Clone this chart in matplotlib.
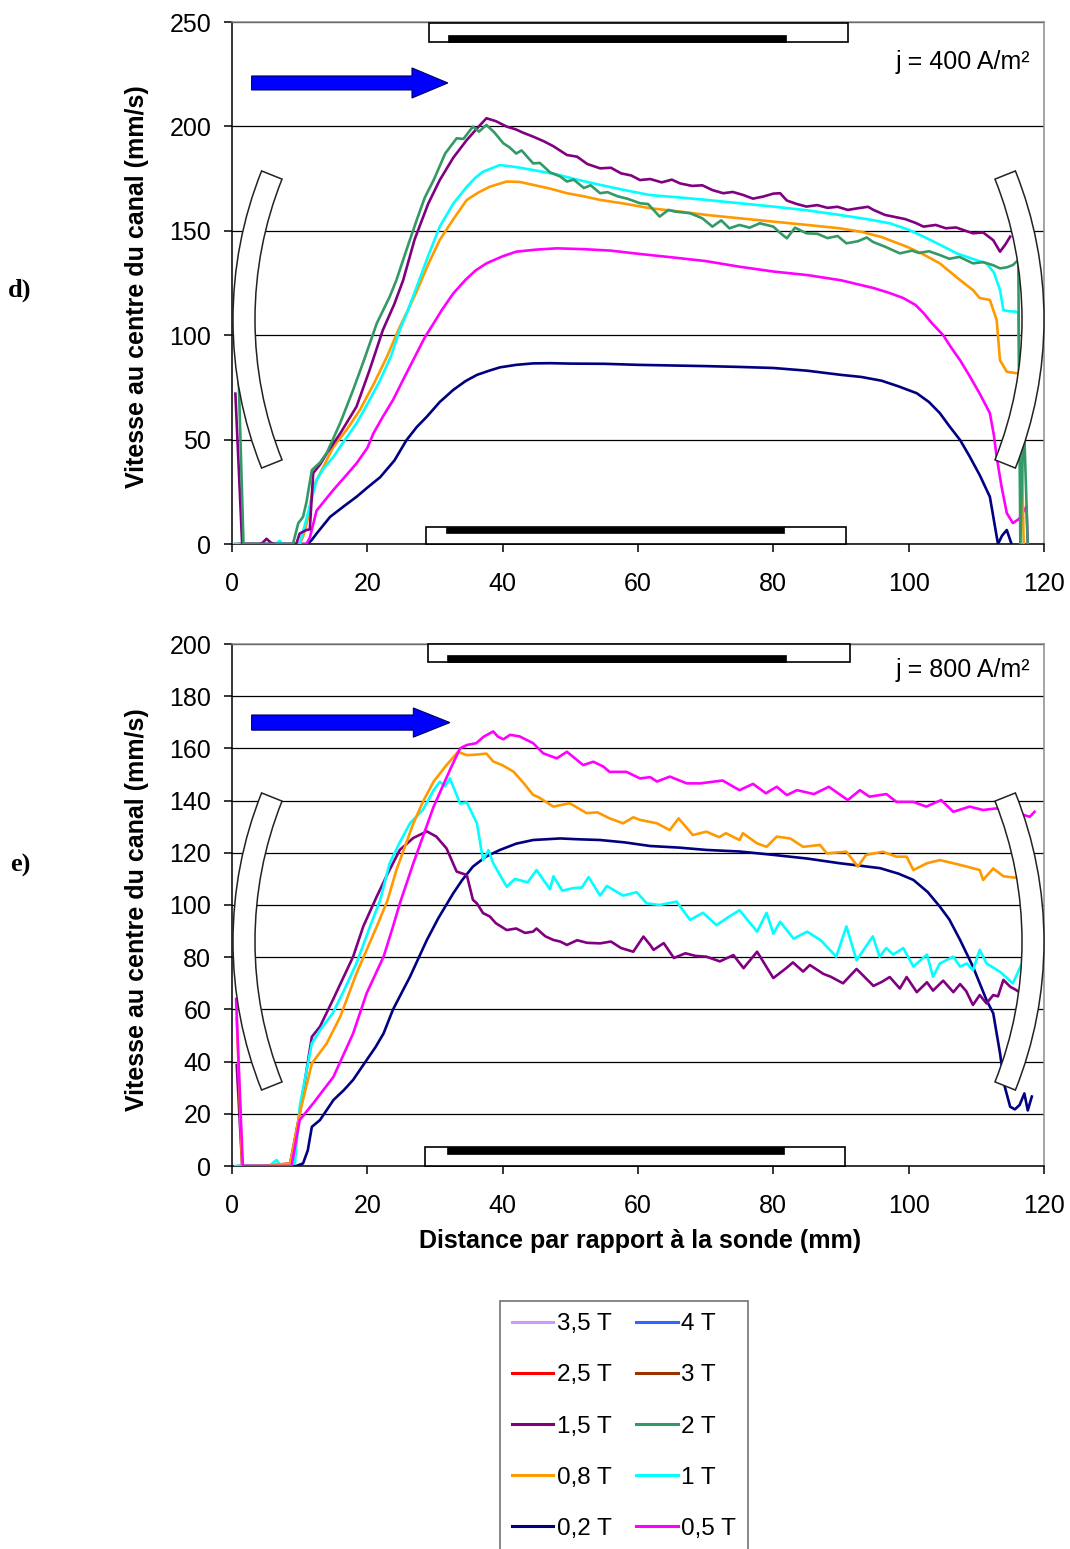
import numpy as np
import matplotlib
matplotlib.use('Agg')
import matplotlib.pyplot as plt
from matplotlib.patches import Rectangle, Polygon, Wedge
from matplotlib.lines import Line2D
from matplotlib.transforms import Affine2D

plt.rcParams['font.family'] = ['Liberation Sans', 'DejaVu Sans']

# ---- couleurs des séries (champ magnétique)
fields = ['3,5 T', '2,5 T', '1,5 T', '0,8 T', '0,2 T', '4 T', '3 T', '2 T', '1 T', '0,5 T']
colors = ['#cc99ff', '#ff0000', '#800080', '#ff9900', '#000080',
          '#3366ff', '#993300', '#339966', '#00ffff', '#ff00ff']
col = dict(zip(fields, colors))

# ================= d) j = 400 A/m2 =================
d_02_x = [1, 5, 9, 11.2, 11.8, 12.5, 14.5, 16.5, 18.4, 20, 21.9, 24, 25.8, 27.3, 28.8, 30.7, 32.7, 34.5,
          36.2, 38, 39.6, 42, 44.5, 47, 50, 55, 60, 65, 70, 75, 80, 85, 90, 93, 96, 98.5, 101.2, 103,
          104.6, 106, 107.6, 109, 110.5, 112, 113.2, 113.8, 114.5, 115.2]
d_02_y = [0, 0, 0, 0, 2, 5, 13, 18, 22.6, 27, 32, 40, 49.8, 56, 61, 68, 73.8, 78,
          81, 83, 84.6, 85.8, 86.5, 86.6, 86.4, 86.3, 85.8, 85.5, 85.2, 84.8, 84.3, 83, 81, 80, 78.2, 75.5, 72.2, 68,
          62.7, 56.5, 49.8, 42, 33, 22.6, 0, 4, 6.7, 0]

d_05_x = [0.5, 5, 11, 11.5, 12.5, 13.5, 15, 16.5, 18.4, 20, 20.9, 22.3, 23.8, 25.5, 27.3, 28.5, 29.8, 31,
          32.7, 34.5, 36, 37.6, 40, 42, 45, 48, 52, 56, 60, 65, 70, 75, 80, 85, 90, 94.8, 97, 99.2, 101,
          102.2, 103.5, 105.1, 106.3, 107.6, 109, 110.5, 112, 112.6, 113, 113.7, 114.5, 115.4, 116.3, 117.4, 117.6]
d_05_y = [0, 0, 0, 3, 16, 20, 26, 31.5, 38.6, 46, 53, 61, 69, 80, 91.4, 99, 105.7, 112,
          120, 126.5, 131, 134.4, 137.8, 140, 141, 141.6, 141.2, 140.5, 139, 137.3, 135.5, 132.8, 130.5, 128.8, 126.3,
          122.6, 120.4, 117.8, 114.5, 110.6, 105.5, 100, 94, 88, 80.5, 72, 62.7, 52, 41.8, 28, 14.8, 10, 12, 17.9, 0]

d_08_x = [0.5, 5, 10, 10.5, 11.2, 12, 13.5, 15, 17, 18.9, 21, 22.9, 24.8, 26, 27.3, 29, 30.7, 32.7, 34.7,
          36.5, 38.1, 40.6, 42.5, 44.5, 47, 49.5, 52, 54.4, 58, 61.8, 66, 70.1, 75, 80, 85, 89.8, 93, 96,
          99.7, 102, 104.6, 107.6, 109.5, 110.5, 112, 113, 113.5, 114.5, 115.9, 116.5, 117]
d_08_y = [0, 0, 0, 3.4, 12, 27.4, 37, 46.6, 55, 64.2, 77, 89.7, 104, 112, 121, 134, 145.6, 155.5, 164.8,
          168.5, 171.1, 173.6, 173.4, 172, 170.2, 168, 166.5, 164.8, 163, 160.8, 159.3, 157.6, 156, 154.4, 152.8,
          151.2, 149.5, 147, 142.4, 139, 134.4, 126.4, 121.6, 117.8, 116.9, 107.3, 88, 82.5, 81.8, 81.5, 0]

d_1_x = [0.3, 5, 6.5, 7, 7.5, 10, 11, 12.5, 13.5, 15, 16.5, 18.4, 20, 21.9, 23.5, 24.8, 26, 27.3, 29, 30.7,
         32.7, 34.7, 36, 37.1, 39.6, 42, 44.5, 48, 51, 54.4, 58, 61.8, 66, 70.1, 75, 80, 85, 89.8, 94, 97.2,
         100, 102.2, 104.5, 107.1, 109.5, 111.5, 112.6, 113.5, 114, 114.8, 115.7, 116.2, 116.6]
d_1_y = [0, 0, 0, 1.5, 0, 0, 12, 30.6, 36, 41.8, 49, 57.8, 67, 78.5, 90, 102.5, 112, 123.2, 138, 152,
         163, 171.1, 175.5, 178.3, 181.5, 180.5, 179.1, 177, 174.5, 172, 169.5, 167.1, 166, 164.8, 163.2, 161.6,
         159.8, 157.6, 155.5, 153.6, 150.5, 147.2, 143.5, 139.2, 136.5, 134.4, 130, 121.6, 112, 111.5, 111.3, 111, 0]

d_15_x = [0.5, 1.5, 4, 4.5, 5.1, 5.8, 6.5, 9.5, 10, 11, 11.5, 12, 13, 14, 16, 18.4, 20.3, 22.3, 24, 25.3,
          27, 29, 30.7, 32.7, 34.7, 36.2, 37.6, 39, 40.6, 42, 43, 44.5, 46, 47.5, 49.5, 51, 52.5, 54.4, 56,
          57.5, 59, 60.3, 61.8, 63.5, 65, 66.2, 68, 69.5, 71, 72.6, 74, 75.5, 77, 78.5, 80, 81, 82, 83.5,
          84.9, 86.5, 88, 89.5, 91, 92.5, 94, 94.8, 96.5, 98, 99.5, 101, 102.2, 104, 105.5, 107, 108.5,
          109.5, 111, 112.5, 113.5, 114.3, 115]
d_15_y = [72, 0, 0, 0.5, 2.5, 0.5, 0, 0, 5, 6.7, 7, 34, 38, 43.4, 53, 65.8, 83, 102.5, 115, 126.4,
          146, 163, 174.3, 185, 193.5, 199, 203.9, 202.5, 199.9, 198.5, 197, 195.1, 193, 190.5, 186.3, 185.5,
          182, 179.9, 180.2, 177.5, 176.5, 174.3, 174.8, 173.2, 174.5, 172.7, 171.5, 171.8, 169.5, 168, 168.6,
          167.2, 165.4, 166.4, 167.8, 168, 164.5, 162.8, 161.6, 162.3, 161, 161.5, 160, 160.8, 161.5, 160,
          157.6, 156.6, 155.6, 153.8, 152, 152.8, 151.2, 151.6, 149.9, 148.8, 149.2, 145.5, 140, 143.5, 147.2]

d_2_x = [0.8, 1.7, 5, 9, 9.8, 10.5, 11, 11.8, 13, 14, 16, 17.9, 19.5, 21.4, 23.3, 24.3, 25.8, 27.3, 28.5,
         29.8, 31.5, 33.2, 34.2, 35.6, 36.5, 37.6, 38.8, 40.1, 41, 42, 42.8, 44.5, 45.5, 47, 48.5, 49.5,
         50.5, 52, 53, 54.4, 55.5, 57, 58.5, 60.3, 61.5, 63.2, 64.5, 65.5, 67.7, 69.5, 71, 72.3, 73.5, 75,
         76.5, 78, 80, 81, 82, 83.2, 84.9, 86.5, 88, 89.5, 90.8, 92.5, 93.8, 94.7, 96.5, 98.7, 100.5, 101.5,
         103, 104.6, 106, 107.5, 109.5, 111, 112.5, 113.5, 114.5, 115.4, 116.2, 116.5, 117, 117.6]
d_2_y = [100, 0, 0, 0, 10, 13, 20, 35.4, 39, 43.6, 58, 73.8, 88, 105.7, 118.4, 126.4, 141, 155.2, 166,
         174.3, 187, 194.3, 194, 199.9, 197.5, 200.7, 197, 191.9, 190, 187, 188.5, 182.3, 182.5, 178, 176,
         173.6, 174.5, 170.5, 171.8, 168, 168.5, 166.5, 165.3, 163.2, 162.8, 156.8, 160, 159.2, 158.4, 156,
         152, 155, 151.2, 152.8, 151.5, 153.6, 152, 149, 146.4, 151.5, 148.8, 148.6, 146.5, 147.5, 144, 145,
         146.8, 144.7, 142.4, 139.2, 140.5, 139.4, 140.2, 138.4, 136.6, 137.5, 134.4, 135, 133.5, 132, 132.5,
         133.6, 136, 0, 62, 0]

# ================= e) j = 800 A/m2 =================
e_02_x = [1, 5, 9.5, 10.5, 11.2, 11.8, 13, 15, 16.5, 17.9, 19.9, 21.2, 22.4, 23.8, 25, 26.3, 28.8, 30.5,
          32.7, 34, 35.6, 37.5, 39.6, 42, 44.5, 48.5, 51, 54.4, 58, 61.8, 66, 70.1, 75, 80, 85, 89.8, 93,
          95.8, 98.5, 100.7, 102.8, 104.6, 106, 107.6, 109.5, 111.5, 112.5, 113.5, 114.2, 115, 115.7, 116.4,
          117.1, 117.6, 118.2]
e_02_y = [0, 0, 0, 1, 6, 15, 17.6, 25.3, 29, 33, 40.6, 45.5, 50.8, 60, 66, 72.5, 86.6, 95,
          104.5, 109.5, 114.7, 118.5, 121.1, 123.5, 124.9, 125.5, 125.2, 124.9, 124, 122.6, 122, 121.1, 120.5,
          119.2, 117.8, 116, 115, 114.1, 112, 109.6, 105, 99.4, 94.5, 86.6, 76.4, 63.6, 58.5, 43.2, 30.4, 22.7,
          21.7, 23.4, 27.8, 21.3, 26.6]

e_05_x = [0.6, 1.6, 5, 8.8, 10, 12, 15, 17.9, 19.9, 22.4, 23.8, 24.8, 26.8, 29.8, 32.2, 33.7, 34.7, 36.1,
          37.2, 38.6, 39.3, 40.1, 41.1, 42.5, 44.5, 46, 48, 49.5, 51.9, 53.4, 54.9, 55.8, 58.3, 60.3, 61.8,
          62.8, 64.7, 67.2, 69.2, 72.5, 75, 77, 78.9, 80.5, 82, 83.5, 86, 88.2, 91, 92.8, 94.2, 96.7, 98.2,
          100.7, 102.6, 104.8, 106.6, 109, 111, 112.9, 115.4, 117.9, 118.6]
e_05_y = [64, 0, 0, 0, 17.6, 24, 34.2, 50.8, 66.2, 80.2, 91.8, 100.6, 116, 137.7, 151.7, 160, 161.3, 162,
          164.5, 166.5, 164.5, 163.5, 165.2, 164.6, 162, 158.1, 156.2, 158.7, 153.6, 154.9, 153, 151, 151,
          148.5, 149, 147.3, 149.2, 146.6, 146.6, 147.7, 144, 146.4, 142.8, 145.3, 142.1, 144, 142.5, 145.3,
          140.2, 144, 141.5, 142.5, 139.5, 139.5, 137.7, 140.2, 135.7, 137.7, 136.4, 137, 135.7, 133.8, 135.7]

e_08_x = [0.7, 1.5, 5, 8.6, 10, 11.8, 14, 16, 18.4, 21.4, 23, 24.3, 26.8, 28.3, 29.8, 31.7, 33.4, 34.7,
          36, 37.6, 38.6, 40, 41.6, 43, 44.5, 45.3, 47.5, 49.9, 52.4, 54, 55.8, 57.8, 59.3, 60.3, 62.8, 64.7,
          66, 68.1, 70.1, 72, 73, 75, 75.5, 77.6, 79, 80.5, 82.5, 84.4, 86.9, 87.9, 90.8, 92.5, 93.7, 96.2,
          98.2, 99.7, 100.7, 102.7, 104.6, 106.6, 108.6, 110.5, 111, 112.5, 114, 116, 117.3]
e_08_y = [56.7, 0, 0, 1, 20, 39.3, 47, 57.2, 73.8, 91.8, 101.9, 113.4, 131.3, 140, 147.3, 153.6, 158.7,
          157.4, 157.6, 158, 155, 153.5, 151.1, 147, 142.2, 141.3, 137.7, 139, 135.2, 135.5, 133.2, 131.3,
          133.6, 132.6, 131.3, 128.7, 133.2, 126.8, 128.1, 126, 127.5, 124.9, 127.5, 123.6, 122.3, 126.2,
          125.5, 122.3, 123, 119.8, 120.4, 114.7, 119.2, 120.4, 118.5, 118.5, 113.4, 116, 117.2, 116, 114.7,
          113.4, 109.6, 114, 111, 110.4, 110.8]

e_1_x = [0.5, 5.5, 6.2, 6.6, 7.2, 9.3, 10, 11.8, 13, 14.9, 16.5, 18.4, 20.4, 21.9, 23.3, 24.8, 26.3, 28.2,
         29.8, 30.7, 31.5, 32.2, 33.7, 34.7, 36.2, 37.1, 37.9, 38.6, 40.6, 41.8, 43.7, 45, 47, 47.5, 48.8,
         50.5, 51.7, 52.7, 54.4, 55.4, 57.8, 59.8, 61.3, 63.2, 65.7, 67.7, 69.6, 71.6, 73.5, 75, 77.6, 79,
         80, 81, 83, 85, 87, 89.3, 90.8, 92.3, 94.7, 95.7, 96.7, 97.7, 99.2, 100.7, 102.7, 103.6, 104.6,
         106.6, 107.6, 108.6, 109.5, 110.5, 111.5, 113.5, 115.4, 116.4, 117]
e_1_y = [0, 0, 1.5, 2.3, 0, 1, 22.7, 47, 52, 58.6, 67, 77.7, 91.8, 101.9, 116, 124, 131.3, 136.4,
         144, 147.2, 145.5, 148.5, 138.9, 139.3, 131.3, 117.2, 121, 116, 107, 110, 108.7, 113.4, 106, 111,
         105.5, 106.5, 106.7, 110.7, 103.6, 107.3, 103.6, 104.9, 100.6, 100, 101.3, 94.3, 97, 92.3, 95.6, 98,
         89.8, 97, 89, 93.6, 87.1, 89.8, 86.5, 80.2, 91.8, 78.8, 88, 80.2, 83.5, 81, 83.5, 76.4, 81, 72.5,
         77.6, 80.2, 76.4, 77.6, 75, 82.8, 77.6, 74.4, 70, 75.7, 79]

e_15_x = [0.7, 1.5, 5, 8.6, 10, 11.8, 13, 14.9, 17.9, 19.4, 21.4, 23, 24.8, 26.8, 28.8, 30.2, 31.7, 33.2,
          34.7, 35.6, 36.2, 37.1, 38.1, 39, 40.6, 42, 43.3, 44.5, 45, 46.3, 47.5, 48.5, 49.5, 51, 52.5, 54.4,
          56, 57.5, 59.3, 60.8, 61.8, 62.3, 63.8, 65.3, 67, 68.5, 70.1, 72.1, 74.1, 75.6, 77.6, 80, 81.9,
          82.9, 84.4, 85.4, 87.4, 88.5, 90.3, 92.3, 94.8, 96, 97.2, 98.7, 99.7, 101.2, 102.7, 103.6, 105.1,
          106.6, 107.6, 108.5, 109.5, 110.5, 111.5, 112.5, 113.2, 114, 115, 115.9, 116.7, 117.3, 117.8]
e_15_y = [38.7, 0, 0, 1, 20, 49.5, 53.4, 63.6, 80.2, 91.8, 103.3, 112, 121.1, 125.7, 128.2, 126.2,
          121.7, 112.8, 111.5, 102, 100.6, 96.9, 95.6, 93, 90.4, 91, 89.3, 89.8, 91, 88, 86.6, 86, 84.7,
          86.5, 85.5, 85.3, 86, 83.5, 82.1, 87.9, 84.7, 82.8, 85.4, 79.7, 81.5, 80.5, 80.2, 78.4, 80.8,
          75.8, 82.1, 72, 75.8, 78, 74.5, 77, 73.6, 72.5, 70, 75.5, 69, 70.5, 72.4, 68, 72.4, 66.6, 70.4,
          67.2, 71, 66.6, 69.7, 67, 61.7, 65.5, 62.3, 65.5, 65, 71.3, 68.7, 67.4, 66, 71, 66]

panel_d = [('0,2 T', d_02_x, d_02_y), ('0,5 T', d_05_x, d_05_y), ('0,8 T', d_08_x, d_08_y),
           ('1 T', d_1_x, d_1_y), ('1,5 T', d_15_x, d_15_y), ('2 T', d_2_x, d_2_y)]
panel_e = [('0,2 T', e_02_x, e_02_y), ('1,5 T', e_15_x, e_15_y), ('1 T', e_1_x, e_1_y),
           ('0,8 T', e_08_x, e_08_y), ('0,5 T', e_05_x, e_05_y)]

W, H = 1070, 1549
fig = plt.figure(figsize=(W / 100, H / 100), dpi=100)
fig.patch.set_facecolor('white')

AX_L, AX_W, AX_H = 232, 812, 522


def decor(ax, top_box, top_bar, bot_box, bot_bar, arrow):
    # plaques / électrodes
    for (x0, y0, w, h) in (top_box, bot_box):
        ax.add_patch(Rectangle((x0, y0), w, h, fc='white', ec='black', lw=1.2, zorder=4, clip_on=False))
    for (x0, y0, w, h) in (top_bar, bot_bar):
        ax.add_patch(Rectangle((x0, y0), w, h, fc='black', ec='black', lw=0.5, zorder=4, clip_on=False))
    # flèche bleue
    xs, xb, xt, yc, hs, hh = arrow
    pts = [(xs, yc - hs), (xb, yc - hs), (xb, yc - hh), (xt, yc), (xb, yc + hh), (xb, yc + hs), (xs, yc + hs)]
    ax.add_patch(Polygon(pts, closed=True, fc='#0000ff', ec='#000060', lw=0.8, zorder=4))
    # arcs (pixels relatifs au coin bas-gauche)
    tr = Affine2D().scale(1 / AX_W, 1 / AX_H) + ax.transAxes
    ax.add_patch(Wedge((401, 224.5), 400, 158.2, 201.8, width=22, fc='white', ec='#222222',
                       lw=1.1, transform=tr, zorder=5, clip_on=False))
    ax.add_patch(Wedge((412, 224.5), 400, -21.8, 21.8, width=22, fc='white', ec='#222222',
                       lw=1.1, transform=tr, zorder=5, clip_on=False))


def style(ax, ymax, ystep):
    ax.set_xlim(0, 120)
    ax.set_ylim(0, ymax)
    ax.set_xticks(np.arange(0, 121, 20))
    ax.set_yticks(np.arange(0, ymax + 1, ystep))
    ax.yaxis.grid(True, color='black', lw=0.9)
    ax.set_axisbelow(True)
    for s in ('left', 'bottom'):
        ax.spines[s].set_color('black')
        ax.spines[s].set_linewidth(1.1)
    for s in ('top', 'right'):
        ax.spines[s].set_color('#8c8c8c')
        ax.spines[s].set_linewidth(1.1)
    ax.tick_params(direction='out', length=6, width=1.1, labelsize=18, colors='black')
    ax.tick_params(axis='y', pad=9)
    ax.tick_params(axis='x', pad=14)


ax1 = fig.add_axes([AX_L / W, 1 - 544 / H, AX_W / W, AX_H / H])
ax2 = fig.add_axes([AX_L / W, 1 - 1166 / H, AX_W / W, AX_H / H])

for name, x, y in panel_d:
    ax1.plot(x, y, color=col[name], lw=1.9, zorder=3, solid_joinstyle='round')
for name, x, y in panel_e:
    ax2.plot(x, y, color=col[name], lw=1.9, zorder=3, solid_joinstyle='round')

style(ax1, 250, 50)
style(ax2, 200, 20)

decor(ax1, (29.1, 240.6, 61.9, 8.8), (31.9, 240.6, 50, 3.4),
      (28.6, 0, 62.2, 8.3), (31.6, 5.1, 50, 3.2), (2.9, 26.6, 31.9, 220.8, 3.35, 7.2))
decor(ax2, (29, 193, 62.3, 7), (31.8, 193, 50, 2.8),
      (28.5, 0, 62.1, 7.2), (31.8, 4.6, 49.8, 2.6), (2.9, 26.8, 32.2, 169.9, 2.9, 5.6))

ax1.text(0.983, 0.923, 'j = 400 A/m²', transform=ax1.transAxes, ha='right', va='center', fontsize=18)
ax2.text(0.983, 0.950, 'j = 800 A/m²', transform=ax2.transAxes, ha='right', va='center', fontsize=18)

ylab = 'Vitesse au centre du canal (mm/s)'
fig.text(137 / W, 1 - 287 / H, ylab, rotation=90, ha='center', va='center', fontsize=18, fontweight='bold')
fig.text(137 / W, 1 - 910 / H, ylab, rotation=90, ha='center', va='center', fontsize=18, fontweight='bold')
fig.text(640 / W, 1 - 1241 / H, 'Distance par rapport à la sonde (mm)', ha='center', va='center',
         fontsize=18, fontweight='bold')

fig.text(20 / W, 1 - 290 / H, 'd)', ha='center', va='center', fontsize=19, fontweight='bold',
         family=['Liberation Serif', 'DejaVu Serif'])
fig.text(20 / W, 1 - 865 / H, 'e)', ha='center', va='center', fontsize=19, fontweight='bold',
         family=['Liberation Serif', 'DejaVu Serif'])

handles = [Line2D([], [], color=col[f], lw=2.2) for f in fields]
leg = fig.legend(handles, fields, loc='upper left', bbox_to_anchor=(500 / W, 1 - 1301 / H),
                 bbox_transform=fig.transFigure, ncol=2, fontsize=17.5, frameon=True, fancybox=False,
                 handlelength=1.7, handletextpad=0.15, columnspacing=1.0, labelspacing=1.2,
                 borderpad=0.5, borderaxespad=0)
leg.get_frame().set_edgecolor('#404040')
leg.get_frame().set_linewidth(1.1)

fig.savefig('out.png', dpi=100, facecolor='white')
